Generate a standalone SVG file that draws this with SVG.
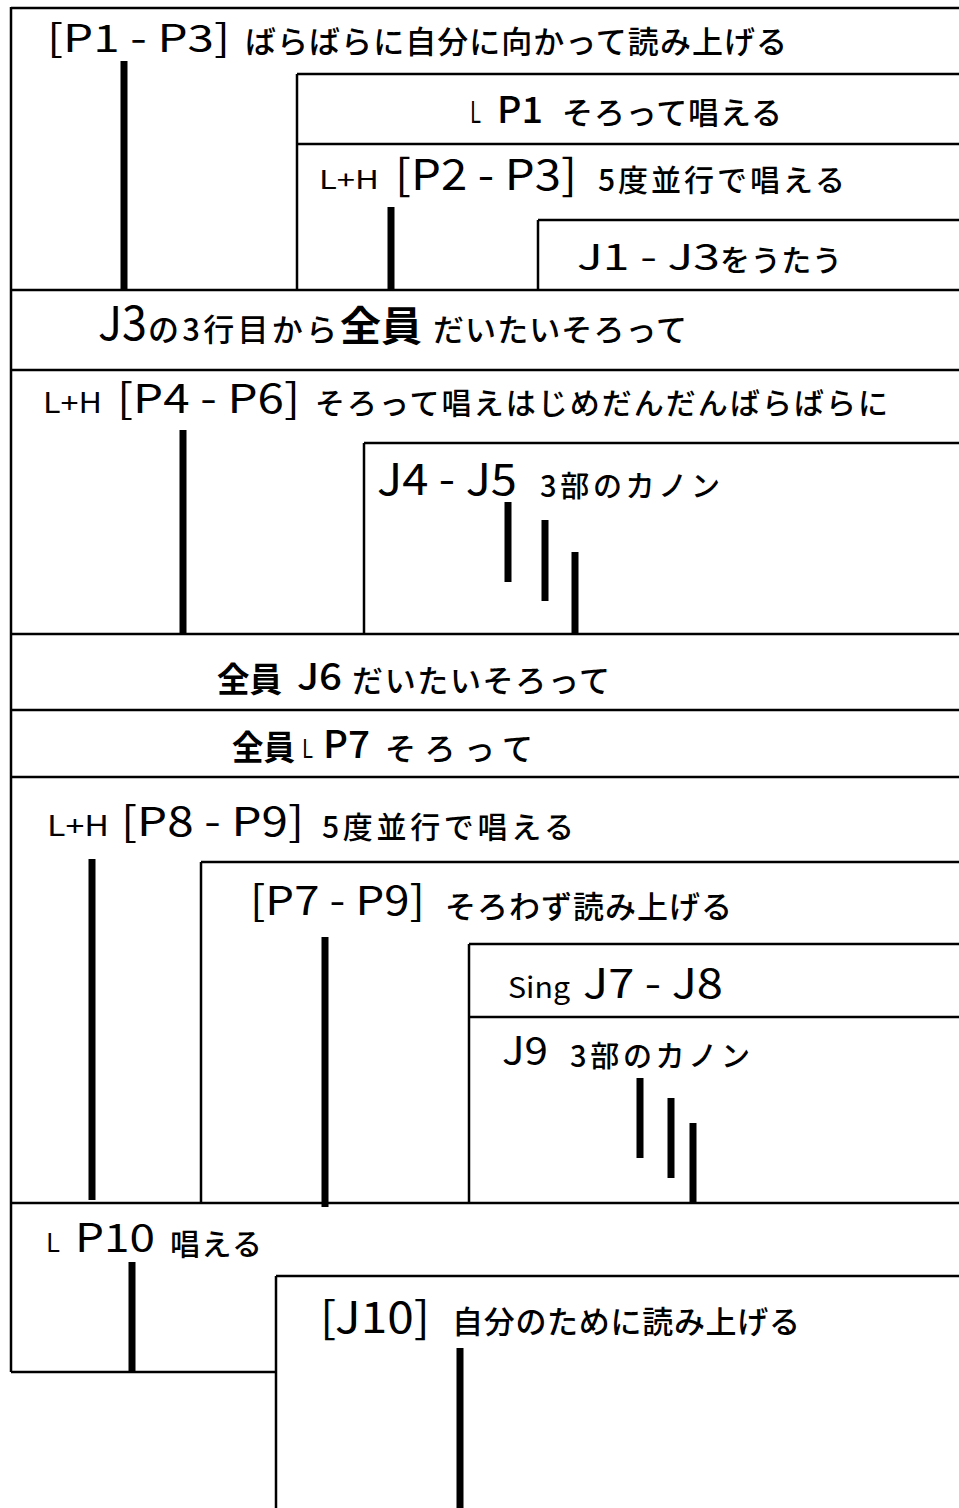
<svg xmlns="http://www.w3.org/2000/svg" width="959" height="1508" viewBox="0 0 959 1508">
<style>
.ln{stroke:#000;stroke-width:2.5;fill:none}
.bar{stroke:#000;stroke-width:7;fill:none}
.lt{font-family:"Noto Sans CJK JP","Noto Sans",sans-serif;fill:#000;font-weight:400}
.jp{font-family:"Noto Sans CJK JP",sans-serif;fill:#000;font-weight:500}
.b{font-weight:bold}
.m{font-weight:500}
</style>
<rect x="0" y="0" width="959" height="1508" fill="#fff"/>
<g id="frame">
<path class="ln" d="M11,7 V1372 M11,8 H959 M11,290 H959 M11,370 H959 M11,634 H959 M11,710 H959 M11,777 H959 M11,1203 H959 M11,1372 H276"/>
</g>
<g id="s1">
<text class="lt" x="47" y="52" font-size="38" textLength="183" lengthAdjust="spacingAndGlyphs">[P1 - P3]</text>
<text class="jp" x="245" y="53" font-size="31" textLength="542">ばらばらに自分に向かって読み上げる</text>
</g>
<g id="s1b">
<path class="ln" d="M297,74 H959 M297,74 V290 M297,144 H959"/>
<text class="lt" x="470" y="123" font-size="30" textLength="11" lengthAdjust="spacingAndGlyphs">L</text>
<text class="lt m" x="497" y="123" font-size="36" textLength="46" lengthAdjust="spacingAndGlyphs">P1</text>
<text class="jp" x="562" y="124" font-size="31" textLength="220">そろって唱える</text>
</g>
<g id="s1c">
<text class="lt" x="319" y="189" font-size="25" textLength="60" lengthAdjust="spacingAndGlyphs">L+H</text>
<text class="lt" x="395" y="190" font-size="42" textLength="182" lengthAdjust="spacingAndGlyphs">[P2 - P3]</text>
<text class="jp" x="598" y="191" font-size="30" textLength="247">5度並行で唱える</text>
</g>
<g id="s1d">
<path class="ln" d="M538,220 H959 M538,220 V290"/>
<text class="lt" x="577" y="270" font-size="36" textLength="143" lengthAdjust="spacingAndGlyphs">J1 - J3</text>
<text class="jp" x="720" y="271" font-size="30" textLength="122">をうたう</text>
</g>
<g id="s2">
<text class="lt" x="98" y="340" font-size="47" textLength="49" lengthAdjust="spacingAndGlyphs">J3</text>
<text class="jp" x="148" y="341" font-size="31" textLength="189">の3行目から</text>
<text class="jp b" x="340" y="341" font-size="41" textLength="82">全員</text>
<text class="jp" x="433" y="341" font-size="31" textLength="254">だいたいそろって</text>
</g>
<g id="s3">
<text class="lt" x="43" y="413" font-size="28" textLength="59" lengthAdjust="spacingAndGlyphs">L+H</text>
<text class="lt" x="117" y="413" font-size="40" textLength="183" lengthAdjust="spacingAndGlyphs">[P4 - P6]</text>
<text class="jp" x="315" y="414" font-size="30" textLength="573">そろって唱えはじめだんだんばらばらに</text>
</g>
<g id="s3b">
<path class="ln" d="M364,443 H959 M364,443 V634"/>
<text class="lt" x="377" y="495" font-size="43" textLength="140" lengthAdjust="spacingAndGlyphs">J4 - J5</text>
<text class="jp" x="540" y="497" font-size="29" textLength="180">3部のカノン</text>
</g>
<g id="s4">
<text class="jp b" x="217" y="692" font-size="34" textLength="65" lengthAdjust="spacingAndGlyphs">全員</text>
<text class="lt m" x="297" y="690" font-size="37" textLength="45" lengthAdjust="spacingAndGlyphs">J6</text>
<text class="jp" x="352" y="692" font-size="31" textLength="258">だいたいそろって</text>
</g>
<g id="s5">
<text class="jp b" x="232" y="760" font-size="34" textLength="63" lengthAdjust="spacingAndGlyphs">全員</text>
<text class="lt" x="302" y="758" font-size="26" textLength="11" lengthAdjust="spacingAndGlyphs">L</text>
<text class="lt m" x="323" y="758" font-size="38" textLength="47" lengthAdjust="spacingAndGlyphs">P7</text>
<text class="jp" x="385" y="760" font-size="31" textLength="148">そろって</text>
</g>
<g id="s6">
<text class="lt" x="47" y="836" font-size="28" textLength="62" lengthAdjust="spacingAndGlyphs">L+H</text>
<text class="lt" x="121" y="836" font-size="40" textLength="183" lengthAdjust="spacingAndGlyphs">[P8 - P9]</text>
<text class="jp" x="322" y="838" font-size="30" textLength="252">5度並行で唱える</text>
</g>
<g id="s6b">
<path class="ln" d="M201,862 H959 M201,862 V1203"/>
<text class="lt" x="250" y="915" font-size="40" textLength="175" lengthAdjust="spacingAndGlyphs">[P7 - P9]</text>
<text class="jp" x="445" y="918" font-size="31" textLength="287">そろわず読み上げる</text>
</g>
<g id="s6c">
<path class="ln" d="M469,944 H959 M469,944 V1203 M469,1017 H959"/>
<text class="lt" x="508" y="998" font-size="29" textLength="62" lengthAdjust="spacingAndGlyphs">Sing</text>
<text class="lt" x="583" y="998" font-size="41" textLength="140" lengthAdjust="spacingAndGlyphs">J7 - J8</text>
</g>
<g id="s6d">
<text class="lt" x="502" y="1065" font-size="39" textLength="46" lengthAdjust="spacingAndGlyphs">J9</text>
<text class="jp" x="570" y="1067" font-size="29" textLength="180">3部のカノン</text>
</g>
<g id="s7">
<text class="lt" x="46" y="1252" font-size="26" textLength="14" lengthAdjust="spacingAndGlyphs">L</text>
<text class="lt" x="75" y="1252" font-size="39" textLength="80" lengthAdjust="spacingAndGlyphs">P10</text>
<text class="jp" x="170" y="1255" font-size="30" textLength="92">唱える</text>
</g>
<g id="s8">
<path class="ln" d="M276,1276 H959 M276,1276 V1508"/>
<text class="lt" x="320" y="1333" font-size="43" textLength="110" lengthAdjust="spacingAndGlyphs">[J10]</text>
<text class="jp" x="452" y="1333" font-size="31" textLength="348">自分のために読み上げる</text>
</g>
<g id="connectors">
<path class="bar" d="M124,61 V290 M391,207 V290 M183,430 V634 M508,502 V582 M545,520 V601 M575,552 V634 M92,859 V1200 M325,937 V1207 M640,1078 V1158 M671,1098 V1178 M693,1123 V1203 M132,1262 V1372 M460,1348 V1508"/>
</g>
</svg>
